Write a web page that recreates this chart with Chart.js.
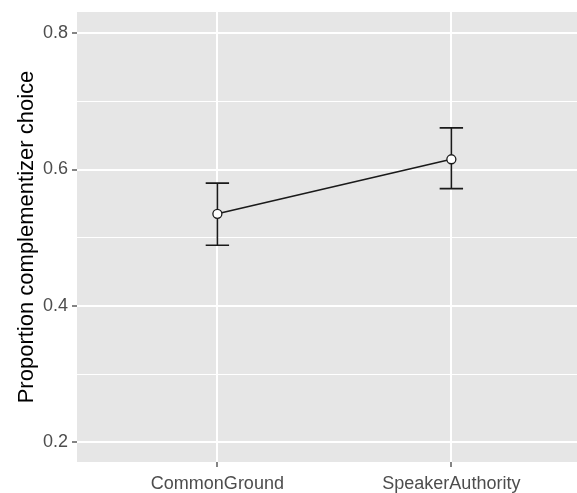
<!DOCTYPE html>
<html lang="en">
<head>
    <meta charset="UTF-8">
    <title>Proportion complementizer choice</title>
    <script src="https://cdn.jsdelivr.net/npm/chart.js"></script>
    <style>
        body { margin: 0; background: #fff; }
        #wrap { width: 577px; height: 493px; }
    </style>
</head>
<body>
    <div id="wrap">
        <canvas id="myChart"></canvas>
    </div>

    <script>
        // data
        const categories = ["CommonGround", "SpeakerAuthority"];
        const proportions = [0.535, 0.615];
        const lowerBounds = [0.489, 0.572];
        const upperBounds = [0.580, 0.661];
        const yTicks = [0.2, 0.3, 0.4, 0.5, 0.6, 0.7, 0.8];
        const yMajor = [0.2, 0.4, 0.6, 0.8];

        const isMajor = (v) => yMajor.some(m => Math.abs(m - v) < 1e-6);

        // grey ggplot-like panel
        const panelBg = {
            id: 'panelBg',
            beforeDraw(chart) {
                const { ctx, chartArea: a } = chart;
                ctx.save();
                ctx.fillStyle = '#E6E6E6';
                ctx.fillRect(a.left, a.top, a.right - a.left, a.bottom - a.top);
                ctx.restore();
            }
        };

        // error bars, cap width given in x units
        const errorBars = {
            id: 'errorBars',
            beforeDatasetsDraw(chart) {
                const { ctx, scales: { x, y } } = chart;
                const capHalf = 0.05;
                ctx.save();
                ctx.strokeStyle = '#1a1a1a';
                ctx.lineWidth = 1.6;
                categories.forEach((c, i) => {
                    const px = x.getPixelForValue(i + 1);
                    const l = x.getPixelForValue(i + 1 - capHalf);
                    const r = x.getPixelForValue(i + 1 + capHalf);
                    const top = y.getPixelForValue(upperBounds[i]);
                    const bot = y.getPixelForValue(lowerBounds[i]);
                    ctx.beginPath();
                    ctx.moveTo(px, top); ctx.lineTo(px, bot);
                    ctx.moveTo(l, top); ctx.lineTo(r, top);
                    ctx.moveTo(l, bot); ctx.lineTo(r, bot);
                    ctx.stroke();
                });
                ctx.restore();
            }
        };

        const ctx = document.getElementById('myChart').getContext('2d');
        const myChart = new Chart(ctx, {
            type: 'line',
            data: {
                datasets: [{
                    data: proportions.map((p, i) => ({ x: i + 1, y: p })),
                    borderColor: '#1a1a1a',
                    borderWidth: 1.6,
                    pointRadius: 4.5,
                    pointBackgroundColor: '#ffffff',
                    pointBorderColor: '#1a1a1a',
                    pointBorderWidth: 1.3,
                    tension: 0
                }]
            },
            options: {
                responsive: true,
                maintainAspectRatio: false,
                animation: false,
                layout: { autoPadding: false, padding: { top: 12, right: 0, left: 0, bottom: 0 } },
                plugins: {
                    legend: { display: false },
                    tooltip: { enabled: false }
                },
                scales: {
                    x: {
                        type: 'linear',
                        min: 0.4,
                        max: 2.537,
                        afterBuildTicks: (axis) => {
                            axis.ticks = categories.map((c, i) => ({ value: i + 1 }));
                        },
                        afterFit: (axis) => {
                            axis.height = 31;
                            axis.paddingLeft = 0;
                            axis.paddingRight = 0;
                        },
                        ticks: {
                            callback: (v) => categories[Math.round(v) - 1],
                            color: '#4D4D4D',
                            font: { family: 'Liberation Sans, Arial', size: 18 },
                            padding: 6,
                            maxRotation: 0,
                            autoSkip: false
                        },
                        grid: {
                            color: '#ffffff',
                            lineWidth: 2,
                            tickColor: '#333333',
                            tickLength: 5,
                            tickWidth: 1.2
                        },
                        border: { display: false }
                    },
                    y: {
                        type: 'linear',
                        min: 0.171,
                        max: 0.831,
                        afterBuildTicks: (axis) => {
                            axis.ticks = yTicks.map(v => ({ value: v }));
                        },
                        afterFit: (axis) => {
                            axis.width = 77;
                            axis.paddingTop = 0;
                            axis.paddingBottom = 0;
                        },
                        ticks: {
                            callback: (v) => isMajor(v) ? v.toFixed(1) : '',
                            color: '#4D4D4D',
                            font: { family: 'Liberation Sans, Arial', size: 18 },
                            padding: 4,
                            autoSkip: false
                        },
                        grid: {
                            color: '#ffffff',
                            lineWidth: (c) => isMajor(c.tick.value) ? 2 : 1,
                            tickColor: (c) => isMajor(c.tick.value) ? '#333333' : 'rgba(0,0,0,0)',
                            tickLength: 5,
                            tickWidth: 1.2
                        },
                        border: { display: false },
                        title: {
                            display: true,
                            text: 'Proportion complementizer choice',
                            color: '#000000',
                            font: { family: 'Liberation Sans, Arial', size: 22 },
                            padding: { top: 14, bottom: 0 }
                        }
                    }
                }
            },
            plugins: [panelBg, errorBars]
        });
    </script>
</body>
</html>
